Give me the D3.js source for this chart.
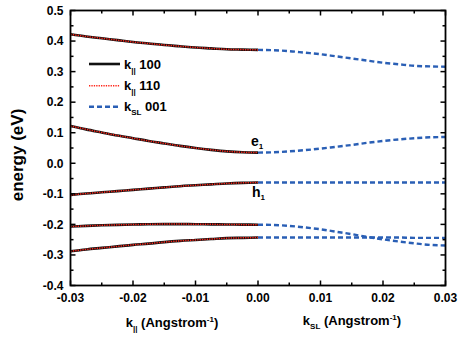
<!DOCTYPE html>
<html><head><meta charset="utf-8">
<script src="https://cdn.jsdelivr.net/npm/d3@7"></script>
<style>
body{margin:0;background:#fff;}
svg{font-family:Arial,"Liberation Sans",sans-serif;font-weight:bold;}
</style></head>
<body><svg id="c" width="459" height="337"></svg>
<script>
// k_parallel values (Angstrom^-1), left panel
const kPar = [-0.03,-0.0275,-0.025,-0.0225,-0.02,-0.0175,-0.015,-0.0125,-0.01,-0.0075,-0.005,-0.0025,0];
// k_SL values (Angstrom^-1), right panel
const kSL = [0,0.0025,0.005,0.0075,0.01,0.0125,0.015,0.0175,0.02,0.0225,0.025,0.0275,0.03];

// bands along k_par 100 (eV)
const par100_1 = [0.422,0.415,0.409,0.403,0.397,0.392,0.387,0.383,0.379,0.376,0.373,0.372,0.371];
const par100_2 = [0.122,0.111,0.101,0.091,0.082,0.073,0.065,0.057,0.050,0.044,0.039,0.036,0.035];
const par100_3 = [-0.104,-0.099,-0.095,-0.091,-0.087,-0.083,-0.079,-0.075,-0.072,-0.069,-0.066,-0.064,-0.063];
const par100_4 = [-0.207,-0.205,-0.203,-0.2015,-0.2005,-0.1995,-0.199,-0.199,-0.1993,-0.1998,-0.2003,-0.2008,-0.201];
const par100_5 = [-0.288,-0.282,-0.277,-0.272,-0.267,-0.263,-0.258,-0.254,-0.251,-0.248,-0.245,-0.244,-0.243];
// bands along k_par 110 (eV)
const par110_1 = [0.422,0.415,0.409,0.403,0.397,0.392,0.387,0.383,0.379,0.376,0.373,0.372,0.371];
const par110_2 = [0.122,0.111,0.101,0.091,0.082,0.073,0.065,0.057,0.050,0.044,0.039,0.036,0.035];
const par110_3 = [-0.104,-0.099,-0.095,-0.091,-0.087,-0.083,-0.079,-0.075,-0.072,-0.069,-0.066,-0.064,-0.063];
const par110_4 = [-0.207,-0.205,-0.203,-0.2015,-0.2005,-0.1995,-0.199,-0.199,-0.1993,-0.1998,-0.2003,-0.2008,-0.201];
const par110_5 = [-0.288,-0.282,-0.277,-0.272,-0.267,-0.263,-0.258,-0.254,-0.251,-0.248,-0.245,-0.244,-0.243];
// bands along k_SL 001 (eV)
const sl_1 = [0.371,0.370,0.367,0.362,0.357,0.350,0.343,0.336,0.329,0.324,0.319,0.317,0.316];
const sl_2 = [0.035,0.036,0.039,0.043,0.048,0.054,0.060,0.067,0.073,0.078,0.082,0.085,0.086];
const sl_3 = [-0.063,-0.063,-0.063,-0.063,-0.063,-0.063,-0.063,-0.063,-0.063,-0.063,-0.063,-0.063,-0.063];
const sl_4 = [-0.201,-0.202,-0.205,-0.210,-0.216,-0.224,-0.232,-0.241,-0.249,-0.256,-0.262,-0.267,-0.269];
const sl_5 = [-0.243,-0.243,-0.243,-0.243,-0.243,-0.243,-0.243,-0.243,-0.243,-0.243,-0.244,-0.244,-0.244];

const xTicks = [-0.03,-0.02,-0.01,0,0.01,0.02,0.03];
const xTickLabels = ["-0.03","-0.02","-0.01","0.00","0.01","0.02","0.03"];
const yTicks = [0.5,0.4,0.3,0.2,0.1,0.0,-0.1,-0.2,-0.3,-0.4];
const yTickLabels = ["0.5","0.4","0.3","0.2","0.1","0.0","-0.1","-0.2","-0.3","-0.4"];
const legendLabels = ["100","110","001"];

const L=70.5, R=445.5, T=10.5, B=285.5;
const svg = d3.select("#c");
const x = d3.scaleLinear().domain([-0.03,0.03]).range([L,R]);
const y = d3.scaleLinear().domain([-0.4,0.5]).range([B,T]);

const line = d3.line().x(d=>x(d[0])).y(d=>y(d[1])).curve(d3.curveMonotoneX);
const zipK = (ks, vs) => ks.map((k,i)=>[k,vs[i]]);

const RED = "#ff2418", BLUE = "#2a5fb5";
const g = svg.append("g");
// k_par 100 black solid
[par100_1,par100_2,par100_3,par100_4,par100_5].forEach(v=>{
  g.append("path").attr("d",line(zipK(kPar,v))).attr("fill","none")
   .attr("stroke","#111").attr("stroke-width",2.6);
});
// k_par 110 red dotted
[par110_1,par110_2,par110_3,par110_4,par110_5].forEach(v=>{
  g.append("path").attr("d",line(zipK(kPar,v))).attr("fill","none")
   .attr("stroke",RED).attr("stroke-width",1.5).attr("stroke-dasharray","1.3,1.1");
});
// k_SL 001 blue dashed
[sl_1,sl_2,sl_3,sl_4,sl_5].forEach(v=>{
  g.append("path").attr("d",line(zipK(kSL,v))).attr("fill","none")
   .attr("stroke",BLUE).attr("stroke-width",2.4).attr("stroke-dasharray","5,3");
});

// axes with inward ticks
const minorX = d3.range(-0.03,0.0301,0.005).map(v=>+v.toFixed(4));
const minorY = d3.range(-0.4,0.5001,0.05).map(v=>+v.toFixed(3));
const ax = svg.append("g").attr("stroke","#000").attr("stroke-width",1.5);
minorX.forEach(v=>{
  const major = xTicks.some(t=>Math.abs(t-v)<1e-6);
  const len = major?5:3;
  ax.append("line").attr("x1",x(v)).attr("x2",x(v)).attr("y1",B).attr("y2",B-len);
  ax.append("line").attr("x1",x(v)).attr("x2",x(v)).attr("y1",T).attr("y2",T+len);
});
minorY.forEach(v=>{
  const major = yTicks.some(t=>Math.abs(t-v)<1e-6);
  const len = major?5:3;
  ax.append("line").attr("y1",y(v)).attr("y2",y(v)).attr("x1",L).attr("x2",L+len);
  ax.append("line").attr("y1",y(v)).attr("y2",y(v)).attr("x1",R).attr("x2",R-len);
});
svg.append("rect").attr("x",L).attr("y",T).attr("width",R-L).attr("height",B-T)
  .attr("fill","none").attr("stroke","#000").attr("stroke-width",1.8);

// tick labels
xTicks.forEach((t,i)=>{
  svg.append("text").attr("x",x(t)).attr("y",B+16).attr("text-anchor","middle")
    .attr("font-size",12).text(xTickLabels[i]);
});
yTicks.forEach((t,i)=>{
  svg.append("text").attr("x",L-7).attr("y",y(t)+4.3).attr("text-anchor","end")
    .attr("font-size",12).text(yTickLabels[i]);
});

// axis titles
svg.append("text").attr("transform","translate(23,155) rotate(-90)").attr("text-anchor","middle")
  .attr("font-size",17).text("energy (eV)");

function kLabel(cx, cy, sub){
  const t = svg.append("text").attr("x",cx).attr("y",cy).attr("text-anchor","middle").attr("font-size",13);
  t.append("tspan").text("k");
  t.append("tspan").attr("font-size",8).attr("dy",4).text(sub);
  t.append("tspan").attr("dy",-4).text(" (Angstrom");
  t.append("tspan").attr("font-size",8).attr("dy",-5).text("-1");
  t.append("tspan").attr("dy",5).text(")");
}
kLabel(172, 327, "||");
kLabel(352, 325, "SL");

// legend
const legY = [64,85.7,106.7];
const legStyles = [
  {c:"#111",w:2.6,d:null},
  {c:RED,w:1.5,d:"1.3,1.1"},
  {c:BLUE,w:2.4,d:"5,3"}
];
const legSubs = ["||","||","SL"];
legY.forEach((ly,i)=>{
  const s = legStyles[i];
  const ln = svg.append("line").attr("x1",89).attr("x2",120).attr("y1",ly).attr("y2",ly)
    .attr("stroke",s.c).attr("stroke-width",s.w);
  if(s.d) ln.attr("stroke-dasharray",s.d);
  const t = svg.append("text").attr("x",124).attr("y",ly+4.5).attr("font-size",13);
  t.append("tspan").text("k");
  t.append("tspan").attr("font-size",8).attr("dy",4).text(legSubs[i]);
  t.append("tspan").attr("dy",-4).text(" "+legendLabels[i]);
});

// annotations
function ann(tx, ty, base){
  const t = svg.append("text").attr("x",tx).attr("y",ty).attr("font-size",14);
  t.append("tspan").text(base);
  t.append("tspan").attr("font-size",8).attr("dy",3).text("1");
}
ann(251, 145.5, "e");
ann(252, 196.5, "h");
</script></body></html>
